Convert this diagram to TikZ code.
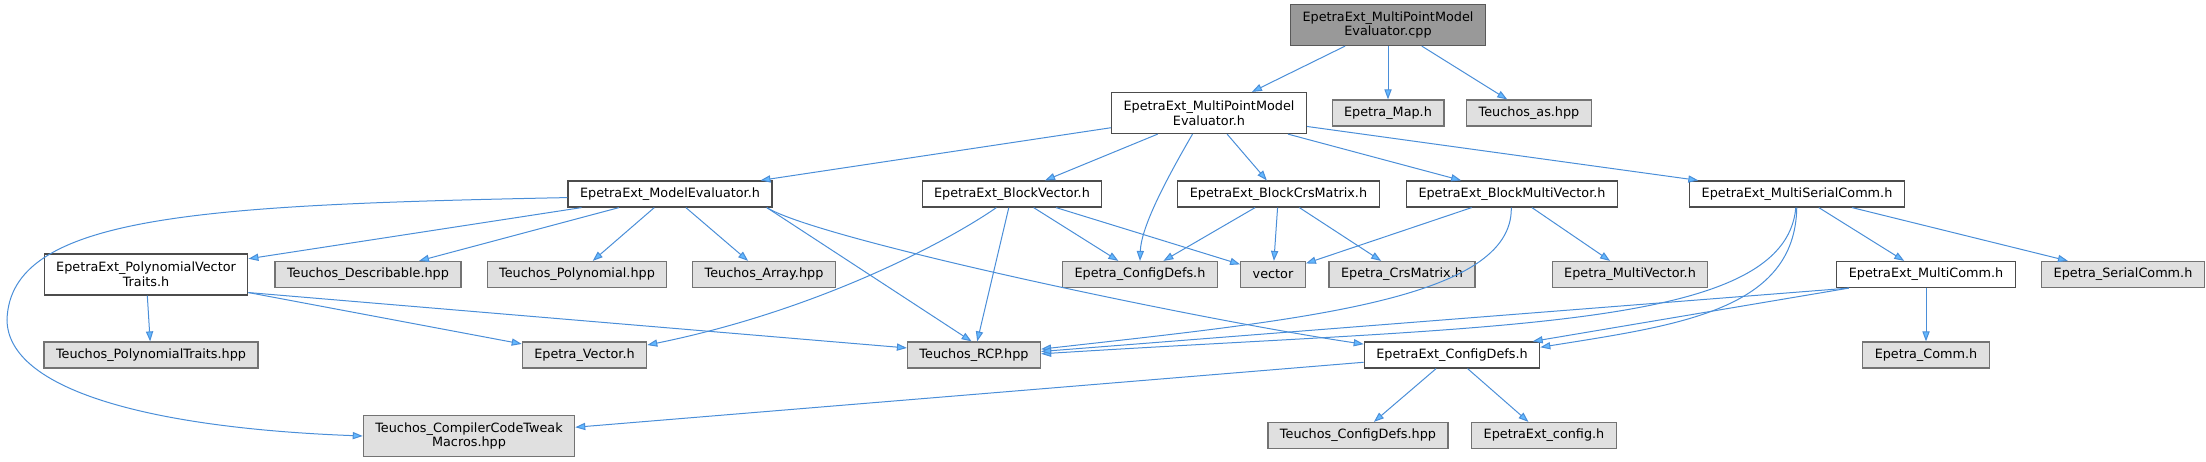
\documentclass[tikz,border=0pt]{standalone}
\usepackage{fontspec}
\setmainfont{DejaVu Sans}
\usetikzlibrary{arrows.meta}
\definecolor{edgeblue}{HTML}{4A8ED8}
\definecolor{tipblue}{HTML}{63B8FF}
\definecolor{grayfill}{HTML}{E0E0E0}
\definecolor{rootfill}{HTML}{999999}
\tikzset{
  filebox/.style={draw=black!70, line width=0.6pt, rectangle, inner xsep=6pt, inner ysep=1pt,
    minimum height=13pt, font=\fontsize{6.4pt}{6.2pt}\selectfont, align=center},
  graybox/.style={filebox, fill=grayfill, draw=black!55},
  whitebox/.style={filebox, fill=white},
  rootbox/.style={filebox, fill=rootfill, draw=black!65},
  twolines/.style={minimum height=20.5pt},
  edge/.style={draw=edgeblue, line width=0.5pt, -{Triangle[length=5pt,width=3.6pt,fill=tipblue]}}
}
\begin{document}
\begin{tikzpicture}[x=0.5pt,y=-0.5pt]
        \useasboundingbox (0,0) rectangle (2206,461);
        % top rows
        \node[rootbox,twolines] (cpp) at (1388,25) {EpetraExt\_MultiPointModel\\Evaluator.cpp};
        \node[whitebox,twolines] (mpme) at (1209,113) {EpetraExt\_MultiPointModel\\Evaluator.h};
        \node[graybox] (map) at (1388,113) {Epetra\_Map.h};
        \node[graybox] (as) at (1529,113) {Teuchos\_as.hpp};
        \node[whitebox] (me) at (670,194) {EpetraExt\_ModelEvaluator.h};
        \node[whitebox] (bv) at (1012,194) {EpetraExt\_BlockVector.h};
        \node[whitebox] (bcrs) at (1278.5,194) {EpetraExt\_BlockCrsMatrix.h};
        \node[whitebox] (bmv) at (1512,194) {EpetraExt\_BlockMultiVector.h};
        \node[whitebox] (msc) at (1797,194) {EpetraExt\_MultiSerialComm.h};
        % third row
        \node[whitebox,twolines] (pvt) at (146,274.5) {EpetraExt\_PolynomialVector\\Traits.h};
        \node[graybox] (desc) at (368,274.5) {Teuchos\_Describable.hpp};
        \node[graybox] (poly) at (577,274.5) {Teuchos\_Polynomial.hpp};
        \node[graybox] (arr) at (764,274.5) {Teuchos\_Array.hpp};
        \node[graybox] (ecd) at (1140,274.5) {Epetra\_ConfigDefs.h};
        \node[graybox] (vec) at (1273,274.5) {vector};
        \node[graybox] (crs) at (1402,274.5) {Epetra\_CrsMatrix.h};
        \node[graybox] (emv) at (1630,274.5) {Epetra\_MultiVector.h};
        \node[whitebox] (mc) at (1926,274.5) {EpetraExt\_MultiComm.h};
        \node[graybox] (sc) at (2123,274.5) {Epetra\_SerialComm.h};
        % fourth row
        \node[graybox] (ptr) at (151,355) {Teuchos\_PolynomialTraits.hpp};
        \node[graybox] (ev) at (584.5,355) {Epetra\_Vector.h};
        \node[graybox] (rcp) at (974,355) {Teuchos\_RCP.hpp};
        \node[whitebox] (xcd) at (1452,355) {EpetraExt\_ConfigDefs.h};
        \node[graybox] (comm) at (1926,355) {Epetra\_Comm.h};
        % bottom row
        \node[graybox,twolines] (tweak) at (469,436) {Teuchos\_CompilerCodeTweak\\Macros.hpp};
        \node[graybox] (tcd) at (1358,435.5) {Teuchos\_ConfigDefs.hpp};
        \node[graybox] (cfg) at (1544,435.5) {EpetraExt\_config.h};

        \draw[edge] (cpp) -- (mpme);
        \draw[edge] (cpp) -- (map);
        \draw[edge] (cpp) -- (as);
        \draw[edge] (mpme) -- (me);
        \draw[edge] (mpme) -- (bv);
        \draw[edge] (mpme.232) .. controls (1160,190) and (1141,230) .. (ecd.north);
        \draw[edge] (mpme) -- (bcrs);
        \draw[edge] (mpme) -- (bmv);
        \draw[edge] (mpme) -- (msc);
        \draw[edge] (me) -- (pvt);
        \draw[edge] (me) -- (desc);
        \draw[edge] (me) -- (poly);
        \draw[edge] (me) -- (arr);
        \draw[edge] (me.352) -- (rcp.100);
        \draw[edge] (me.352) .. controls (820,240) and (1200,320) .. (xcd.173);
        \draw[edge] (me.182) .. controls (200,205) and (10,215) .. (7,320)
                    .. controls (8,390) and (150,428) .. (tweak.west);
        \draw[edge] (bv.221) .. controls (950,240) and (820,310) .. (ev.9);
        \draw[edge] (bv) -- (rcp);
        \draw[edge] (bv) -- (ecd);
        \draw[edge] (bv) -- (vec);
        \draw[edge] (bcrs) -- (ecd);
        \draw[edge] (bcrs) -- (vec);
        \draw[edge] (bcrs) -- (crs);
        \draw[edge] (bmv) -- (vec);
        \draw[edge] (bmv) -- (emv);
        \draw[edge] (bmv.267) .. controls (1513,300) and (1300,320) .. (rcp.5);
        \draw[edge] (msc.265) .. controls (1785,330) and (1500,325) .. (rcp.1);
        \draw[edge] (msc.269) .. controls (1795,310) and (1680,325) .. (xcd.5);
        \draw[edge] (msc) -- (mc);
        \draw[edge] (msc) -- (sc);
        \draw[edge] (mc.190) -- (rcp.3);
        \draw[edge] (mc.190) -- (xcd);
        \draw[edge] (mc) -- (comm);
        \draw[edge] (pvt) -- (ptr);
        \draw[edge] (pvt.350) -- (ev.170);
        \draw[edge] (pvt.350) -- (rcp.174);
        \draw[edge] (xcd) -- (tweak);
        \draw[edge] (xcd) -- (tcd);
        \draw[edge] (xcd) -- (cfg);
    \end{tikzpicture}
\end{document}
